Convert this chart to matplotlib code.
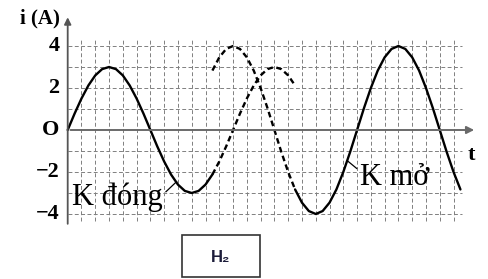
import matplotlib.pyplot as plt
import numpy as np
from matplotlib.patches import Rectangle

# values, time in grid columns, current in A
t1 = np.arange(0, 16.75, 0.5)
i1 = [0, 0.78, 1.5, 2.12, 2.6, 2.9, 3, 2.9, 2.6, 2.12, 1.5, 0.78, 0,
      -0.78, -1.5, -2.12, -2.6, -2.9, -3, -2.9, -2.6, -2.12, -1.5, -0.78, 0,
      0.78, 1.5, 2.12, 2.6, 2.9, 3, 2.9, 2.6, 2.12]
t2 = np.arange(10.5, 28.75, 0.5)
i2 = [2.83, 3.46, 3.86, 4, 3.86, 3.46, 2.83, 2, 1.04, 0,
      -1.04, -2, -2.83, -3.46, -3.86, -4, -3.86, -3.46, -2.83, -2, -1.04, 0,
      1.04, 2, 2.83, 3.46, 3.86, 4, 3.86, 3.46, 2.83, 2, 1.04, 0,
      -1.04, -2, -2.83]
t_switch = [10.5, 16.5]   # K closed until 10.5, K opened at 16.5
y_ticks = [4, 2, 0, -2, -4]
y_tick_labels = ['4', '2', 'O', '\u22122', '\u22124']

fig = plt.figure(figsize=(4.88, 2.79), dpi=100)
ax = fig.add_axes([0, 0, 1, 1])
ax.set_xlim(-67.7 / 13.78, (488 - 67.7) / 13.78)
ax.set_ylim((130 - 279) / 21, 130 / 21)
ax.axis('off')

# dashed grid
grid_kw = dict(color='#808080', lw=0.7, linestyle=(0, (4, 2.5)))
ax.vlines(np.arange(1, 29), -4.35, 4.4, **grid_kw)
ax.hlines([4, 3, 2, 1, -1, -2, -3, -4], 0, 28.6, **grid_kw)

# axes with arrows
axis_col = '#6a6a6a'
ax.annotate('', xy=(29.7, 0), xytext=(0, 0),
            arrowprops=dict(arrowstyle='-|>', color=axis_col, lw=1.4, mutation_scale=11))
ax.annotate('', xy=(0, 5.5), xytext=(0, -4.6),
            arrowprops=dict(arrowstyle='-|>', color='#555555', lw=1.3, mutation_scale=10))

# curves
t1 = np.asarray(t1); i1 = np.asarray(i1)
t2 = np.asarray(t2); i2 = np.asarray(i2)
m1 = t1 <= t_switch[0]
ax.plot(t1[m1], i1[m1], color='black', lw=1.7, solid_capstyle='round')
m1d = t1 >= t_switch[0]
ax.plot(t1[m1d], i1[m1d], color='black', lw=1.7, dashes=(2.4, 1.5))
m2d = t2 <= t_switch[1]
ax.plot(t2[m2d], i2[m2d], color='black', lw=1.7, dashes=(2.4, 1.5))
m2 = t2 >= t_switch[1]
ax.plot(t2[m2], i2[m2], color='black', lw=1.7, solid_capstyle='round')

# labels
serif = ['Liberation Serif', 'DejaVu Serif']
for v, lab in zip(y_ticks, y_tick_labels):
    ax.text(-0.6, v, lab, ha='right', va='center', fontsize=16,
            fontweight='bold', family=serif)
ax.text(-2.0, 5.33, 'i (A)', ha='center', va='center', fontsize=15,
        fontweight='bold', family=serif)
ax.text(29.3, -1.19, 't', ha='center', va='center', fontsize=16,
        fontweight='bold', family=serif)

ax.text(0.3, -3.57, 'K đóng', ha='left', va='baseline', fontsize=22, family=serif)
ax.plot([7.13, 7.9], [-2.94, -2.46], color='black', lw=0.9)
ax.text(21.22, -2.62, 'K mở', ha='left', va='baseline', fontsize=22, family=serif)
ax.plot([20.36, 20.97], [-1.5, -1.83], color='black', lw=0.9)

# caption box
fig.add_artist(Rectangle((182 / 488, 2 / 279), 78 / 488, 42 / 279,
                         transform=fig.transFigure, fill=False,
                         edgecolor='#333333', lw=1.2))
fig.text(221 / 488, 1 - 257 / 279, 'H\u2082', ha='center', va='center',
         fontsize=12, fontweight='bold', color='#1c1c3a',
         family=['Liberation Sans', 'DejaVu Sans'])

fig.savefig('out.png', dpi=100)
